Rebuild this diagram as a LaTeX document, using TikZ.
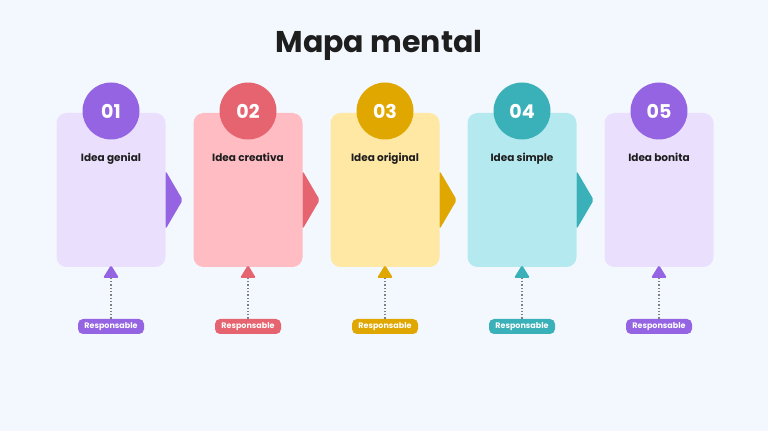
\documentclass[tikz,border=0pt]{standalone}
\usepackage{fontspec}
\setmainfont{Poppins}
\usepackage{tikz}
\usetikzlibrary{positioning}
\definecolor{bgc}{HTML}{F3F8FE}
\definecolor{pu}{HTML}{9464E2}
\definecolor{pul}{HTML}{EAE0FE}
\definecolor{re}{HTML}{E5646F}
\definecolor{rel}{HTML}{FFBCC3}
\definecolor{go}{HTML}{E0A700}
\definecolor{gol}{HTML}{FFE8A4}
\definecolor{te}{HTML}{3AB1B8}
\definecolor{tel}{HTML}{B4EAEF}
\definecolor{ink}{HTML}{1E1E1E}

\begin{document}
\begin{tikzpicture}[x=1pt,y=1pt,
  card/.style={minimum width=109pt,minimum height=154pt,rounded corners=10pt,inner sep=0pt},
  num/.style={circle,minimum size=57pt,inner sep=0pt,text=white,font=\bfseries\fontsize{19}{19}\selectfont},
  idea/.style={anchor=base,text=ink,font=\bfseries\fontsize{10.5}{10.5}\selectfont},
  resp/.style={rounded corners=5pt,minimum width=66pt,minimum height=15pt,inner sep=0pt,text=white,font=\fontsize{8}{8}\selectfont\bfseries},
  dotline/.style={gray,dotted,line width=1.3pt}]
  \fill[bgc] (0,0) rectangle (768,431);
  \useasboundingbox (0,0) rectangle (768,431);
  \node[font=\bfseries\fontsize{30}{30}\selectfont,text=ink] (title) at (379,386) {Mapa mental};

  \foreach \i/\x/\c/\l/\nm in {1/111/pu/pul/Idea genial,2/248/re/rel/Idea creativa,
      3/385/go/gol/Idea original,4/522/te/tel/Idea simple,5/659/pu/pul/Idea bonita}{
    \node[card,fill=\l] (b\i) at (\x,241) {};
    % flecha hacia la siguiente idea
    \ifnum\i<5
      \fill[\c,rounded corners=2pt] (b\i.east |- 0,260) -- ++(17,-29) -- ++(-17,-29) -- cycle;
    \fi
    \node[num,fill=\c] (n\i) at (\x,320) {0\i};
    \node[idea] (t\i) at (\x,269) {\nm};
    \coordinate (a\i) at (\x,153);
    \fill[\c,rounded corners=1.5pt] (a\i) ++(-8,0) -- ++(16,0) -- ++(-8,13) -- cycle;
    \node[resp,fill=\c] (r\i) at (\x,104.5) {Responsable};
    \draw[dotline] (r\i) -- (a\i);
  }
\end{tikzpicture}
\end{document}
